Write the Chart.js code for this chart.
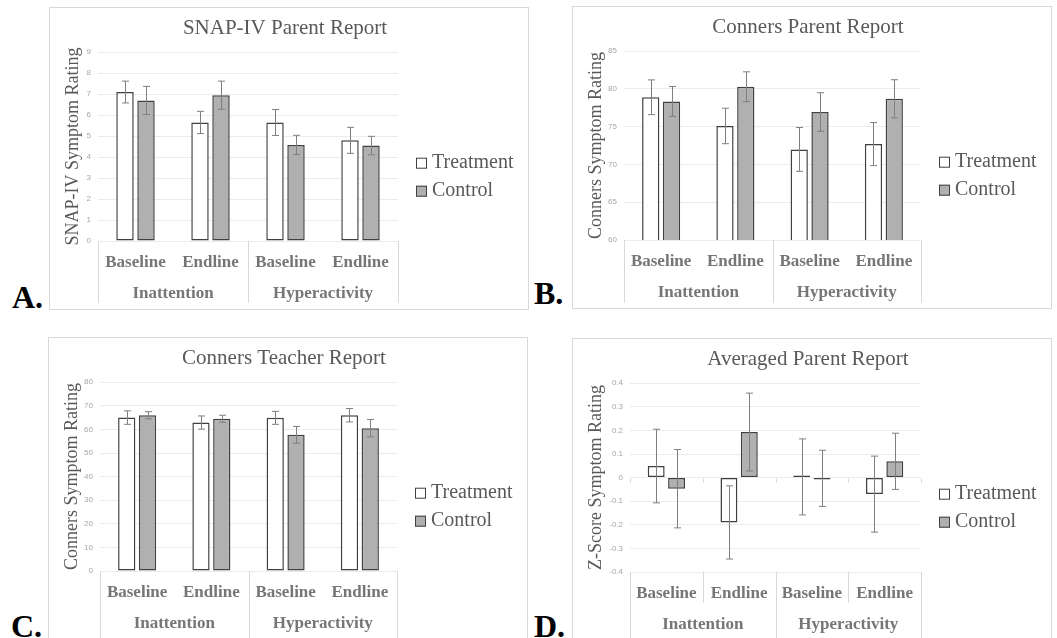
<!DOCTYPE html>
<html>
<head>
<meta charset="utf-8">
<script src="https://cdn.jsdelivr.net/npm/chart.js@4.4.0/dist/chart.umd.min.js"></script>
<style>
body { margin: 0; background: #fff; width: 1057px; height: 638px; overflow: hidden; position: relative; }
.panel { position: absolute; width: 480px; height: 303px; border: 1px solid #d9d9d9; box-sizing: border-box; }
.panel canvas { display: block; }
.tag { position: absolute; font: bold 32px 'Liberation Serif', 'Times New Roman', serif; line-height: 1; color: #000; }
</style>
</head>
<body>
<div class="panel" style="left:49px;top:7px"><canvas id="chartA" width="478" height="301"></canvas></div>
<div class="panel" style="left:572px;top:6px"><canvas id="chartB" width="478" height="301"></canvas></div>
<div class="panel" style="left:48px;top:337px"><canvas id="chartC" width="478" height="301"></canvas></div>
<div class="panel" style="left:572px;top:338px"><canvas id="chartD" width="478" height="301"></canvas></div>
<div class="tag" style="left:12px;top:281px">A.</div>
<div class="tag" style="left:534px;top:277px">B.</div>
<div class="tag" style="left:11px;top:610px">C.</div>
<div class="tag" style="left:534px;top:610px">D.</div>
<script>
// categories
const phases = ['Baseline', 'Endline', 'Baseline', 'Endline'];
const domains = ['Inattention', 'Hyperactivity'];
const seriesNames = ['Treatment', 'Control'];

// A. SNAP-IV parent report
const snapTreatment = [7.1, 5.65, 5.65, 4.8];
const snapTreatmentErr = [0.52, 0.53, 0.62, 0.62];
const snapControl = [6.7, 6.95, 4.58, 4.55];
const snapControlErr = [0.67, 0.67, 0.46, 0.44];
const snapAxis = [0, 9, 1];

// B. Conners parent report
const parentTreatment = [78.9, 75.1, 72.0, 72.7];
const parentTreatmentErr = [2.3, 2.35, 2.9, 2.85];
const parentControl = [78.35, 80.3, 76.95, 78.7];
const parentControlErr = [1.98, 1.97, 2.55, 2.52];
const parentAxis = [60, 85, 5];

// C. Conners teacher report
const teacherTreatment = [65.0, 62.9, 64.9, 66.0];
const teacherTreatmentErr = [2.85, 2.8, 2.75, 2.85];
const teacherControl = [66.0, 64.5, 57.7, 60.5];
const teacherControlErr = [1.5, 1.5, 3.55, 3.7];
const teacherAxis = [0, 80, 10];

// D. Averaged parent report (z-scores)
const zTreatment = [0.049, -0.19, 0.003, -0.07];
const zTreatmentErr = [0.156, 0.155, 0.161, 0.161];
const zControl = [-0.047, 0.193, -0.003, 0.069];
const zControlErr = [0.166, 0.165, 0.119, 0.119];
const zAxis = [-0.4, 0.4, 0.1];

const serif = "'Liberation Serif', 'Times New Roman', serif";

const errorBars = {
    id: 'errorBars',
    afterDatasetsDraw(chart) {
        const ctx = chart.ctx;
        const y = chart.scales.y;
        ctx.save();
        ctx.strokeStyle = '#7f7f7f';
        ctx.lineWidth = 1;
        chart.data.datasets.forEach((ds, i) => {
            chart.getDatasetMeta(i).data.forEach((bar, j) => {
                const top = y.getPixelForValue(ds.data[j] + ds.errors[j]);
                const bot = y.getPixelForValue(ds.data[j] - ds.errors[j]);
                const x = Math.round(bar.x) + 0.5;
                ctx.beginPath();
                ctx.moveTo(x, top); ctx.lineTo(x, bot);
                ctx.moveTo(x - 3.5, top); ctx.lineTo(x + 3.5, top);
                ctx.moveTo(x - 3.5, bot); ctx.lineTo(x + 3.5, bot);
                ctx.stroke();
            });
        });
        ctx.restore();
    }
};

// two-level category axis (phase / domain) with Excel style dividers
const groupedAxis = {
    id: 'groupedAxis',
    afterDraw(chart, args, opts) {
        const {ctx, chartArea, scales: {x, y}} = chart;
        const half = (x.getPixelForValue(1) - x.getPixelForValue(0)) / 2;
        const edge = i => Math.round(x.getPixelForValue(i) - half) + 0.5;
        const bottom = chartArea.bottom;
        ctx.save();
        ctx.strokeStyle = '#d9d9d9';
        ctx.lineWidth = 1;
        ctx.beginPath();
        for (let i = 0; i <= phases.length; i += 2) {
            ctx.moveTo(edge(i), bottom);
            ctx.lineTo(edge(i), bottom + opts.groupLine);
        }
        if (opts.innerLine) {
            for (let i = 1; i < phases.length; i += 2) {
                ctx.moveTo(edge(i), bottom);
                ctx.lineTo(edge(i), bottom + opts.innerLine);
            }
        }
        if (opts.zeroTicks) {
            const y0 = Math.round(y.getPixelForValue(0)) + 0.5;
            for (let i = 0; i <= phases.length; i++) {
                ctx.moveTo(edge(i), y0);
                ctx.lineTo(edge(i), y0 + 4);
            }
        }
        ctx.stroke();

        ctx.font = 'bold 17px ' + serif;
        ctx.fillStyle = '#767676';
        ctx.textAlign = 'center';
        ctx.textBaseline = 'middle';
        phases.forEach((p, i) => ctx.fillText(p, x.getPixelForValue(i), bottom + 22));
        domains.forEach((d, g) => {
            const cx = (x.getPixelForValue(2 * g) + x.getPixelForValue(2 * g + 1)) / 2;
            ctx.fillText(d, cx, bottom + 53);
        });
        ctx.restore();
    }
};

const sideLegend = {
    id: 'sideLegend',
    afterDraw(chart) {
        const {ctx, chartArea} = chart;
        ctx.save();
        ctx.font = '20px ' + serif;
        ctx.textBaseline = 'middle';
        ctx.textAlign = 'left';
        chart.data.datasets.forEach((ds, i) => {
            const cy = chartArea.top + 111 + i * 28;
            const bx = chartArea.right + 18;
            ctx.fillStyle = ds.backgroundColor;
            ctx.fillRect(bx, cy - 5.5, 11, 11);
            ctx.strokeStyle = ds.borderColor;
            ctx.lineWidth = 1;
            ctx.strokeRect(bx + 0.5, cy - 5, 10, 10);
            ctx.fillStyle = '#595959';
            ctx.fillText(ds.label, chartArea.right + 34, cy);
        });
        ctx.restore();
    }
};

function createPanel(id, title, yTitle, treat, treatErr, ctrl, ctrlErr, axis, yWidth, extra) {
    const ctx = document.getElementById(id).getContext('2d');
    new Chart(ctx, {
        type: 'bar',
        data: {
            labels: phases.map((p, i) => domains[Math.floor(i / 2)] + ' ' + p),
            datasets: [
                {
                    label: seriesNames[0],
                    data: treat,
                    errors: treatErr,
                    backgroundColor: '#ffffff',
                    borderColor: '#404040',
                    borderWidth: 1.5,
                    borderSkipped: false,
                    minBarLength: 2,
                    categoryPercentage: 0.56,
                    barPercentage: 0.83
                },
                {
                    label: seriesNames[1],
                    data: ctrl,
                    errors: ctrlErr,
                    backgroundColor: '#b0b0b0',
                    borderColor: '#404040',
                    borderWidth: 1.5,
                    borderSkipped: false,
                    minBarLength: 2,
                    categoryPercentage: 0.56,
                    barPercentage: 0.83
                }
            ]
        },
        options: {
            responsive: false,
            animation: false,
            layout: { padding: { left: 0, right: 8, top: 0, bottom: 0 } },
            plugins: {
                legend: { display: false },
                tooltip: { enabled: false },
                title: {
                    display: true,
                    text: title,
                    color: '#595959',
                    font: { family: serif, size: 21, weight: 'normal' },
                    padding: { top: 8, bottom: 11 }
                },
                groupedAxis: extra
            },
            scales: {
                x: {
                    type: 'category',
                    grid: { display: false },
                    border: { display: false },
                    ticks: { display: false },
                    afterFit: s => { s.height = 68; }
                },
                y: {
                    min: axis[0],
                    max: axis[1],
                    ticks: {
                        stepSize: axis[2],
                        padding: 7,
                        color: '#a6a6a6',
                        font: { family: "'Liberation Sans', Arial, sans-serif", size: 8 },
                        callback: v => String(Math.round(v * 10) / 10)
                    },
                    grid: { color: '#ebebeb', drawTicks: false },
                    border: { display: false },
                    title: {
                        display: true,
                        text: yTitle,
                        color: '#595959',
                        font: { family: serif, size: 18, weight: 'normal' },
                        padding: { top: 12, bottom: 0 }
                    },
                    afterFit: s => { s.width = yWidth; }
                },
                side: {
                    type: 'linear',
                    position: 'right',
                    display: true,
                    grid: { display: false },
                    border: { display: false },
                    ticks: { display: false },
                    afterFit: s => { s.width = 122; }
                }
            }
        },
        plugins: [errorBars, groupedAxis, sideLegend]
    });
}

document.addEventListener('DOMContentLoaded', function() {
    createPanel('chartA', 'SNAP-IV Parent Report', 'SNAP-IV Symptom Rating',
        snapTreatment, snapTreatmentErr, snapControl, snapControlErr, snapAxis, 48,
        { groupLine: 62 });
    createPanel('chartB', 'Conners Parent Report', 'Conners Symptom Rating',
        parentTreatment, parentTreatmentErr, parentControl, parentControlErr, parentAxis, 51,
        { groupLine: 63 });
    createPanel('chartC', 'Conners Teacher Report', 'Conners Symptom Rating',
        teacherTreatment, teacherTreatmentErr, teacherControl, teacherControlErr, teacherAxis, 51,
        { groupLine: 68 });
    createPanel('chartD', 'Averaged Parent Report', 'Z-Score Symptom Rating',
        zTreatment, zTreatmentErr, zControl, zControlErr, zAxis, 57,
        { groupLine: 68, innerLine: 31, zeroTicks: true });
});
</script>
</body>
</html>
